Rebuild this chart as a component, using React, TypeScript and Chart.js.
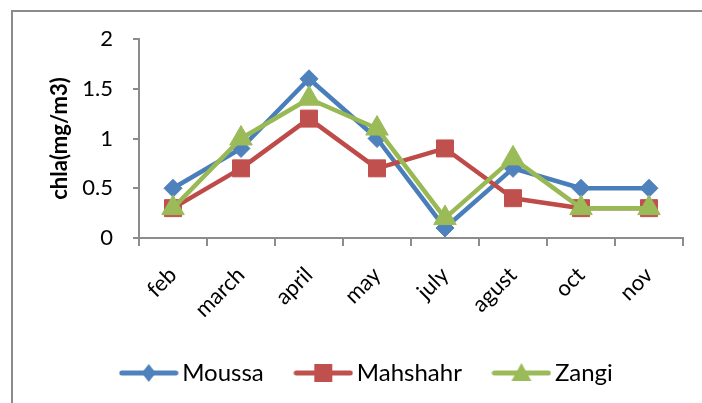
import React, { useEffect, useRef } from 'react';
import { Chart, registerables } from 'chart.js';

Chart.register(...registerables);

const months = ['feb', 'march', 'april', 'may', 'july', 'agust', 'oct', 'nov'];
const moussa = [0.5, 0.9, 1.6, 1.0, 0.1, 0.7, 0.5, 0.5];
const mahshahr = [0.3, 0.7, 1.2, 0.7, 0.9, 0.4, 0.3, 0.3];
const zangi = [0.3, 1.0, 1.4, 1.1, 0.2, 0.8, 0.3, 0.3];
const seriesNames = ['Moussa', 'Mahshahr', 'Zangi'];
const yAxisTitle = 'chla(mg/m3)';
const yTickValues = [0, 0.5, 1, 1.5, 2];
const yTickLabels = ['0', '0.5', '1', '1.5', '2'];

const lineColors = ['#4A7EBB', '#BE4B48', '#98B954'];
const markerColors = ['#4F81BD', '#C0504D', '#9BBB59'];
const markerStyles = ['rectRot', 'rect', 'triangle'];
const markerRadii = [9, 12, 13];
const FONT = 'Lato, "Open Sans", sans-serif';

function makeLegendIcon(color: string, style: string): HTMLCanvasElement {
  const c = document.createElement('canvas');
  c.width = 60;
  c.height = 26;
  const ctx = c.getContext('2d')!;
  const cy = 13;
  const cx = 30;
  ctx.strokeStyle = color;
  ctx.lineWidth = 5;
  ctx.lineCap = 'round';
  ctx.beginPath();
  ctx.moveTo(3, cy);
  ctx.lineTo(57, cy);
  ctx.stroke();
  ctx.fillStyle = color;
  ctx.beginPath();
  if (style === 'rectRot') {
    ctx.moveTo(cx, cy - 9);
    ctx.lineTo(cx + 7, cy);
    ctx.lineTo(cx, cy + 9);
    ctx.lineTo(cx - 7, cy);
  } else if (style === 'rect') {
    ctx.rect(cx - 9, cy - 9, 18, 18);
  } else {
    ctx.moveTo(cx, cy - 10);
    ctx.lineTo(cx + 10, cy + 8);
    ctx.lineTo(cx - 10, cy + 8);
  }
  ctx.closePath();
  ctx.fill();
  return c;
}

const framePlugin = {
  id: 'frame',
  beforeDraw(chart: any) {
    const ctx = chart.ctx;
    ctx.save();
    ctx.fillStyle = '#ffffff';
    ctx.fillRect(0, 0, chart.width, chart.height);
    ctx.strokeStyle = '#8c8c8c';
    ctx.lineWidth = 2;
    ctx.strokeRect(12, 11, 900, 600);
    ctx.restore();
  },
};

export default function App() {
  const ref = useRef<HTMLCanvasElement>(null);

  useEffect(() => {
    if (!ref.current) return;
    const series = [moussa, mahshahr, zangi];
    const icons = markerStyles.map((s, i) => makeLegendIcon(markerColors[i], s));
    const chart = new Chart(ref.current, {
      type: 'line',
      data: {
        labels: months,
        datasets: series.map((data, i) => ({
          label: seriesNames[i],
          data,
          borderColor: lineColors[i],
          backgroundColor: markerColors[i],
          borderWidth: 4.5,
          borderJoinStyle: 'round' as const,
          borderCapStyle: 'round' as const,
          pointStyle: markerStyles[i] as any,
          pointRadius: markerRadii[i],
          pointBackgroundColor: markerColors[i],
          pointBorderColor: markerColors[i],
          pointBorderWidth: 1,
          tension: 0,
          fill: false,
          order: series.length - i,
        })),
      },
      options: {
        responsive: false,
        devicePixelRatio: 1,
        animation: false,
        layout: { padding: { left: 38, right: 0, top: 39, bottom: 8 } },
        plugins: {
          tooltip: { enabled: false },
          legend: {
            position: 'bottom',
            labels: {
              usePointStyle: true,
              pointStyleWidth: 43,
              padding: 38,
              color: '#000',
              font: { family: FONT, size: 24 },
              sort: (a: any, b: any) => a.datasetIndex - b.datasetIndex,
              generateLabels: (ch: any) => {
                const items = (Chart.defaults.plugins.legend.labels as any).generateLabels(ch);
                return items.map((it: any) => ({ ...it, pointStyle: icons[it.datasetIndex] }));
              },
            },
          },
        },
        scales: {
          x: {
            type: 'category',
            offset: true,
            grid: {
              offset: true,
              drawOnChartArea: false,
              drawTicks: true,
              tickLength: 8,
              color: '#8c8c8c',
              lineWidth: 2,
            },
            border: { color: '#8c8c8c', width: 2 },
            ticks: {
              autoSkip: false,
              minRotation: 45,
              maxRotation: 45,
              padding: 16,
              color: '#000',
              font: { family: FONT, size: 22 },
            },
            afterFit: (s: any) => {
              s.height = 85;
            },
          },
          y: {
            type: 'linear',
            position: 'left',
            min: yTickValues[0],
            max: yTickValues[yTickValues.length - 1],
            afterBuildTicks: (s: any) => {
              s.ticks = yTickValues.map((v) => ({ value: v }));
            },
            ticks: {
              padding: 20,
              color: '#000',
              font: { family: FONT, size: 22 },
              callback: (v: any) => {
                const idx = yTickValues.indexOf(Number(v));
                return idx >= 0 ? yTickLabels[idx] : String(v);
              },
            },
            grid: {
              drawOnChartArea: false,
              drawTicks: true,
              tickLength: 6,
              color: '#8c8c8c',
              lineWidth: 2,
            },
            border: { color: '#8c8c8c', width: 2 },
            title: {
              display: true,
              text: yAxisTitle,
              color: '#000',
              padding: { top: 8.8, bottom: 0 },
              font: { family: FONT, size: 22, weight: 'bold' },
            },
            afterFit: (s: any) => {
              s.width = 101;
            },
          },
          yPad: {
            type: 'linear',
            position: 'right',
            display: true,
            grid: { display: false, drawTicks: false },
            ticks: { display: false },
            border: { display: false },
            afterFit: (s: any) => {
              s.width = 19;
            },
          },
        },
      } as any,
      plugins: [framePlugin],
    });
    return () => chart.destroy();
  }, []);

  return (
    <div style={{ position: 'fixed', left: 0, top: 0, width: 702, height: 403, background: '#fff' }}>
      <canvas ref={ref} width={702} height={403} style={{ display: 'block' }} />
    </div>
  );
}
